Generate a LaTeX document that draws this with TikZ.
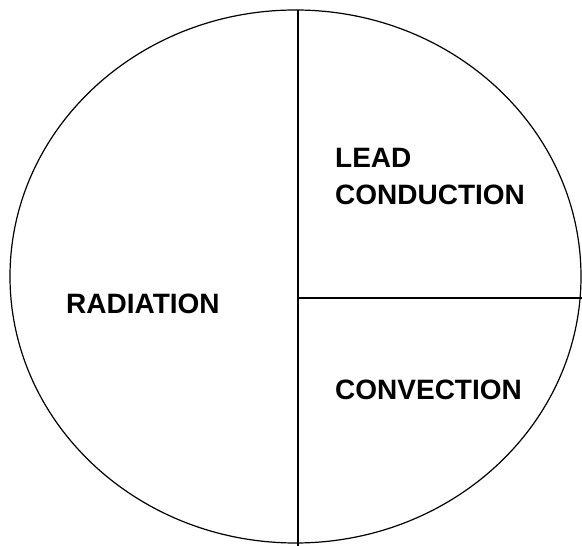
\documentclass[tikz,border=0pt]{standalone}
\usepackage{fontspec}
\setmainfont{Liberation Sans}
\usetikzlibrary{shapes.geometric, positioning}
\tikzset{
    slice/.style={ellipse, draw=black, line width=1.2pt, minimum width=571pt, minimum height=533pt, inner sep=0pt},
    divider/.style={line width=1.2pt},
    share/.style={font=\fontsize{28}{37}\selectfont\bfseries, align=left, inner sep=0pt}
}
\begin{document}
\begin{tikzpicture}[x=1pt, y=1pt]
    \useasboundingbox (0,0) rectangle (582,546);
    \node (pie) [slice] at (295.5,269.5) {};
    \coordinate (top) at (298,536);
    \coordinate (bot) at (298,0);
    \coordinate (mid) at (298,248);
    \coordinate (edge) at (582,248);

    \draw [divider] (top) -- (bot);
    \draw [divider] (mid) -- (edge);

    \node (rad) [share, anchor=base west] at (66,232) {RADIATION};
    \node (lead) [share, anchor=base west] at (335,341) {LEAD\\CONDUCTION};
    \node (conv) [share, anchor=base west] at (335,146) {CONVECTION};
\end{tikzpicture}
\end{document}
